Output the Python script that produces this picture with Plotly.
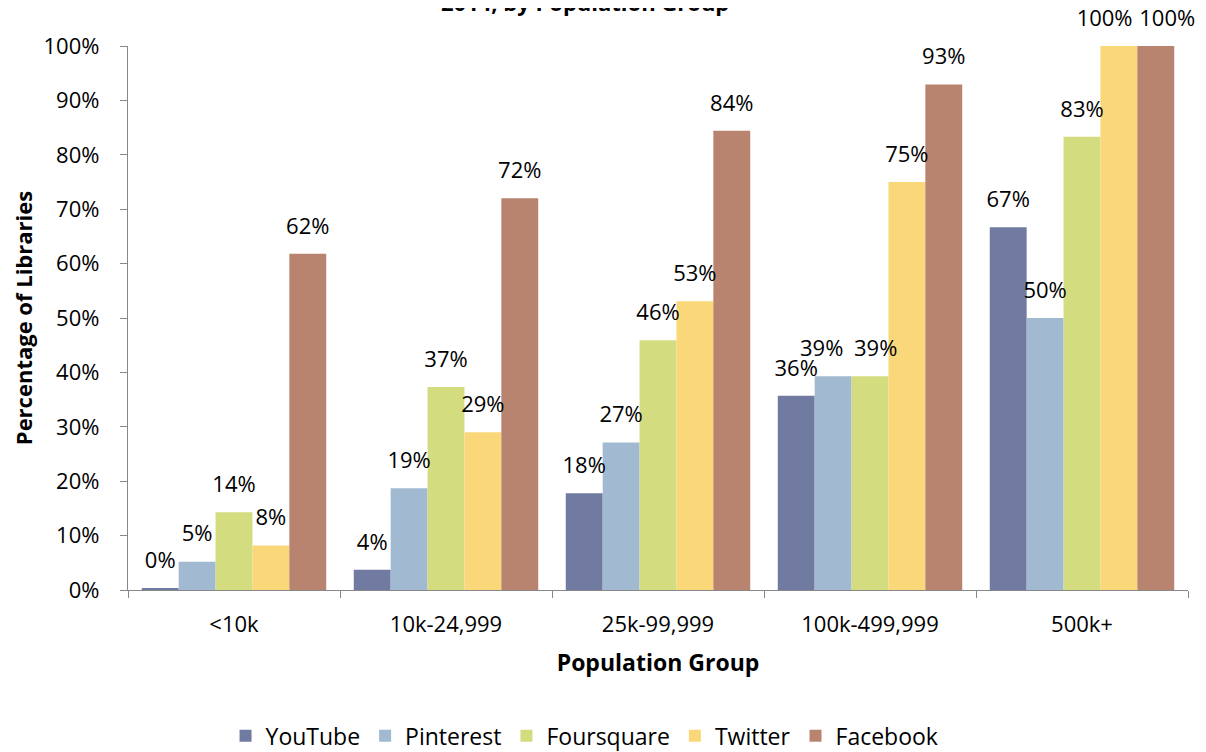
import plotly.graph_objects as go

categories = ["<10k", "10k-24,999", "25k-99,999", "100k-499,999", "500k+"]
series_names = ["YouTube", "Pinterest", "Foursquare", "Twitter", "Facebook"]
youtube = [0.3, 3.7, 17.8, 35.7, 66.7]
pinterest = [5.2, 18.7, 27.1, 39.3, 50.0]
foursquare = [14.3, 37.3, 45.9, 39.3, 83.3]
twitter = [8.2, 29.0, 53.1, 75.0, 100.0]
facebook = [61.8, 72.0, 84.4, 92.9, 100.0]
colors = ["#717BA1", "#A1B9D1", "#D3DC7E", "#FAD87A", "#B8846F"]

# label nudges (non-breaking-space padding, as Excel moves colliding labels)
pad_left = {("Foursquare", 3): 2, ("Facebook", 4): 4}
pad_right = {("Pinterest", 3): 4, ("Twitter", 4): 5}

values = [youtube, pinterest, foursquare, twitter, facebook]
FONT = "Open Sans"
NB = "\u00a0"

fig = go.Figure()
for name, vals, col in zip(series_names, values, colors):
    fig.add_trace(go.Bar(
        x=categories, y=vals, name=name, marker=dict(color=col, line=dict(width=0)),
        offsetgroup=name,
    ))
for name, vals in zip(series_names, values):
    labels = []
    for i, v in enumerate(vals):
        labels.append(NB * pad_left.get((name, i), 0) + f"{round(v)}%" + NB * pad_right.get((name, i), 0))
    fig.add_trace(go.Scatter(
        x=categories, y=vals, mode="markers+text", offsetgroup=name,
        marker=dict(size=22, opacity=0), text=labels,
        textposition="top center", textfont=dict(family=FONT, size=22, color="#000"),
        showlegend=False, hoverinfo="skip", cliponaxis=False,
    ))

fig.update_layout(
    width=1198, height=744,
    margin=dict(l=120, r=18, t=38, b=162, autoexpand=False),
    paper_bgcolor="white", plot_bgcolor="white",
    barmode="group", bargap=0.13, bargroupgap=0, scattermode="group",
    font=dict(family=FONT, size=22, color="#000"),
    showlegend=True,
    legend=dict(orientation="h", x=0.4307, xanchor="center", y=-0.268, yanchor="middle",
                font=dict(family=FONT, size=23), itemwidth=30, traceorder="normal"),
    xaxis=dict(
        showline=True, linecolor="#888", linewidth=1.3, ticks="outside", tickson="boundaries",
        ticklen=7, tickcolor="#888", showgrid=False, ticklabelstandoff=14,
        title=dict(text="<b>Population Group</b>", font=dict(family=FONT, size=23), standoff=18),
        tickfont=dict(family=FONT, size=22),
    ),
    yaxis=dict(
        range=[0, 100], dtick=10, ticksuffix="%", showline=True, linecolor="#888", linewidth=1.3,
        ticks="outside", ticklen=7, tickcolor="#888", showgrid=False, zeroline=False,
        ticklabelstandoff=16,
        title=dict(text="<b>Percentage of Libraries</b>", font=dict(family=FONT, size=22), standoff=8),
        tickfont=dict(family=FONT, size=22),
    ),
    annotations=[dict(
        text="<b>2014, by Population Group</b>", xref="paper", yref="paper", x=0.4307, y=1.081,
        xanchor="center", yanchor="middle", showarrow=False, font=dict(family=FONT, size=22),
    )],
)
fig.write_html("out.html")
